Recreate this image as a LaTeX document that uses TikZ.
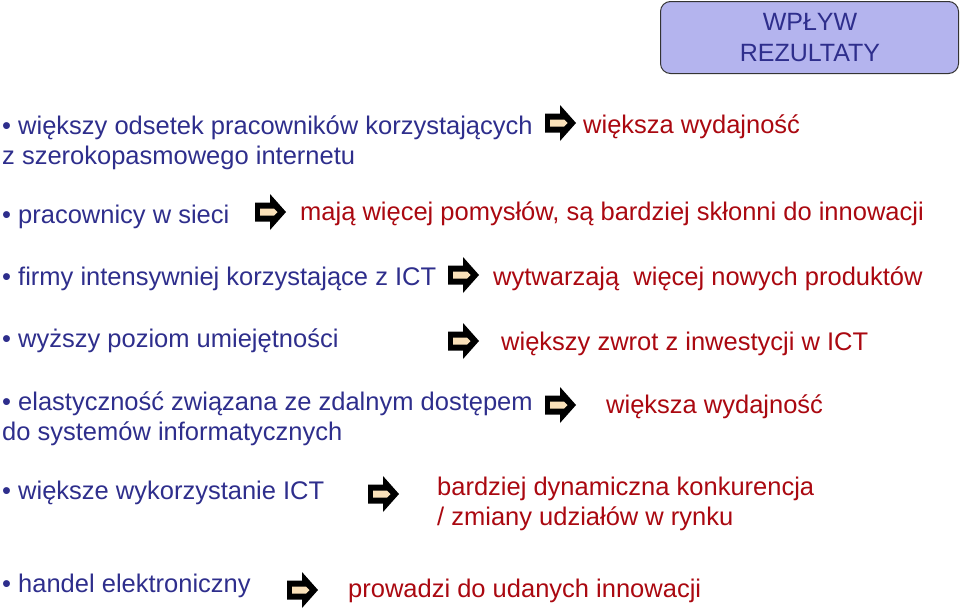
\documentclass[tikz,border=0pt]{standalone}
\usepackage{fontspec}
\setmainfont{Liberation Sans}
\definecolor{txtblue}{RGB}{46,46,140}
\definecolor{txtred}{RGB}{170,8,16}
\definecolor{boxfill}{RGB}{180,180,238}
\definecolor{arrowtan}{RGB}{250,225,185}
\tikzset{
  lt/.style={anchor=base west,inner sep=0pt,text=txtblue,font=\fontsize{25.5}{30}\selectfont,align=left},
  rt/.style={anchor=base west,inner sep=0pt,text=txtred,font=\fontsize{25.5}{30}\selectfont,align=left},
  pics/blockarrow/.style={code={
    \fill[black] (0,-9.5) -- (15,-9.5) -- (15,-18) -- (31,0) -- (15,18) -- (15,9.5) -- (0,9.5) -- cycle;
    \fill[arrowtan] (5,-3.5) -- (19,-3.5) -- (22.5,0) -- (19,3.5) -- (5,3.5) -- cycle;
  }}
}
\begin{document}
\begin{tikzpicture}[x=1pt,y=-1pt]
\useasboundingbox (0,0) rectangle (960,611);
% header box
\node[draw=black!80,line width=1pt,fill=boxfill,rounded corners=10pt,minimum width=298pt,minimum height=72pt,anchor=north west,inner sep=0pt] (box) at (660,1) {};
\node[text=txtblue,font=\fontsize{25}{31}\selectfont,align=center] (boxtxt) at (810,38) {WPŁYW\\REZULTATY};
% row 1
\node[lt] (l1) at (2,164) {• większy odsetek pracowników korzystających\\z szerokopasmowego internetu};
\pic (a1) at (545,123) {blockarrow};
\node[rt] (r1) at (583,133) {większa wydajność};
% row 2
\node[lt] (l2) at (2,223) {• pracownicy w sieci};
\pic (a2) at (255,212) {blockarrow};
\node[rt] (r2) at (300,220) {mają więcej pomysłów, są bardziej skłonni do innowacji};
% row 3
\node[lt] (l3) at (2,285) {• firmy intensywniej korzystające z ICT};
\pic (a3) at (448,275) {blockarrow};
\node[rt] (r3) at (493,285) {wytwarzają\ \ więcej nowych produktów};
% row 4
\node[lt] (l4) at (2,347) {• wyższy poziom umiejętności};
\pic (a4) at (448,341) {blockarrow};
\node[rt] (r4) at (501,350) {większy zwrot z inwestycji w ICT};
% row 5
\node[lt] (l5) at (2,440) {• elastyczność związana ze zdalnym dostępem\\do systemów informatycznych};
\pic (a5) at (545,405) {blockarrow};
\node[rt] (r5) at (606,413) {większa wydajność};
% row 6
\node[lt] (l6) at (2,499) {• większe wykorzystanie ICT};
\pic (a6) at (368,494) {blockarrow};
\node[rt] (r6) at (437,525) {bardziej dynamiczna konkurencja\\/ zmiany udziałów w rynku};
% row 7
\node[lt] (l7) at (2,592) {• handel elektroniczny};
\pic (a7) at (287,590) {blockarrow};
\node[rt] (r7) at (348,597) {prowadzi do udanych innowacji};
\end{tikzpicture}
\end{document}
